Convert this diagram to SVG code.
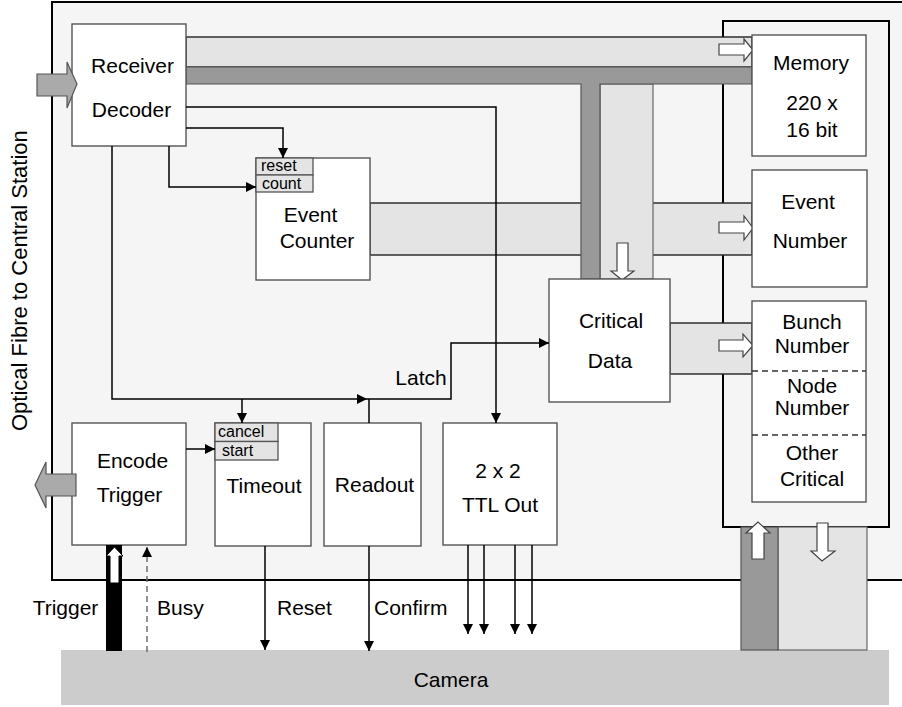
<svg xmlns="http://www.w3.org/2000/svg" width="902" height="707" viewBox="0 0 902 707">
<style>
text{font-family:"Liberation Sans",Arial,sans-serif;font-size:21px;fill:#000}
.sm{font-size:16px}
.mid{text-anchor:middle}
.box{fill:#fff;stroke:#555;stroke-width:1.4}
.tab{fill:#e4e4e4;stroke:#555;stroke-width:1.3}
.lbus{fill:#e4e4e4;stroke:#222;stroke-width:1.4}
.dbus{fill:#999;stroke:#555;stroke-width:1.2}
.warr{fill:#fff;stroke:#444;stroke-width:1.2}
.garr{fill:#aaa;stroke:#555;stroke-width:1.2}
.wire{fill:none;stroke:#000;stroke-width:1.5}
</style>
<defs>
<marker id="ah" viewBox="0 0 10 10" refX="10" refY="5" markerWidth="10" markerHeight="10" markerUnits="userSpaceOnUse" orient="auto">
<path d="M0,0 L10,5 L0,10 z" fill="#000"/>
</marker>
</defs>

<!-- board -->
<rect id="board" x="52" y="2" width="880" height="578" fill="#f5f5f5" stroke="#000" stroke-width="2"/>
<text transform="translate(27,431) rotate(-90)" style="font-size:22px">Optical Fibre to Central Station</text>

<!-- memory module panel -->
<rect id="panel" x="723" y="21" width="166" height="506" fill="#f5f5f5" stroke="#000" stroke-width="2"/>

<!-- camera -->
<g id="camera">
<rect x="61" y="650" width="828" height="55" fill="#ccc"/>
<text x="451" y="687" class="mid">Camera</text>
</g>

<!-- buses -->
<g id="buses">
<rect class="lbus" x="370" y="203" width="382" height="52"/>
<rect class="lbus" x="670" y="323" width="82" height="51"/>
<rect class="lbus" x="186" y="37" width="566" height="30"/>
<rect x="600" y="84" width="53" height="195" fill="#e4e4e4" stroke="#666" stroke-width="1.2"/>
<path class="dbus" d="M186,67 H752 V84 H600 V279 H581 V84 H186 Z"/>
<rect x="778" y="527" width="89" height="123" fill="#e4e4e4" stroke="#666" stroke-width="1.2"/>
<rect class="dbus" x="741" y="527" width="37" height="123"/>
<polygon class="warr" points="719,44 744,44 744,39 753,50 744,61 744,55 719,55"/>
<polygon class="warr" points="719,222 744,222 744,216 753,228 744,240 744,233 719,233"/>
<polygon class="warr" points="719,340 743,340 743,334 753,345.5 743,357 743,351 719,351"/>
<polygon class="warr" points="617,243 628,243 628,271 634,271 622,280 611,271 617,271"/>
<polygon class="warr" points="752,559 764,559 764,533 770,533 758,522 746,533 752,533"/>
<polygon class="warr" points="817,523 828,523 828,551 835,551 822,561 811,551 817,551"/>
</g>

<!-- nodes -->
<g id="receiver-decoder">
<rect class="box" x="72" y="24" width="114" height="122"/>
<text x="132.5" y="73" class="mid">Receiver</text>
<text x="131.5" y="117" class="mid">Decoder</text>
</g>
<polygon class="garr" points="37,74 67,74 67,62 77,84 67,108 67,96 37,96"/>

<g id="event-counter">
<rect class="box" x="256" y="158" width="114" height="122"/>
<rect class="tab" x="256" y="158" width="57" height="17"/>
<rect class="tab" x="256" y="175" width="57" height="17"/>
<text x="261" y="171" class="sm">reset</text>
<text x="262" y="189" class="sm">count</text>
<text x="310.5" y="222" class="mid">Event</text>
<text x="317" y="248" class="mid">Counter</text>
</g>

<g id="memory">
<rect class="box" x="752" y="35" width="114" height="121"/>
<text x="811" y="70" class="mid">Memory</text>
<text x="812" y="110" class="mid">220 x</text>
<text x="812" y="137" class="mid">16 bit</text>
</g>

<g id="event-number">
<rect class="box" x="752" y="170" width="115" height="117"/>
<text x="808" y="209" class="mid">Event</text>
<text x="810" y="248" class="mid">Number</text>
</g>

<g id="critical-data">
<rect class="box" x="549" y="279" width="121" height="123"/>
<text x="611" y="328" class="mid">Critical</text>
<text x="610" y="368" class="mid">Data</text>
</g>

<g id="critical-fields">
<rect class="box" x="752" y="301" width="114" height="201"/>
<path d="M752,371 H866 M752,435 H866" fill="none" stroke="#333" stroke-width="1.3" stroke-dasharray="6,4"/>
<text x="812" y="329" class="mid">Bunch</text>
<text x="812" y="353" class="mid">Number</text>
<text x="812" y="393" class="mid">Node</text>
<text x="812" y="415" class="mid">Number</text>
<text x="812" y="460" class="mid">Other</text>
<text x="812" y="486" class="mid">Critical</text>
</g>

<g id="encode-trigger">
<rect class="box" x="72" y="423" width="114" height="122"/>
<text x="132.5" y="468" class="mid">Encode</text>
<text x="129.5" y="502" class="mid">Trigger</text>
</g>
<polygon class="garr" points="76,474 46,474 46,462 35,485 46,508 46,496 76,496"/>

<g id="timeout">
<rect class="box" x="215" y="423" width="96" height="123"/>
<rect class="tab" x="215" y="423" width="63" height="18.5"/>
<rect class="tab" x="215" y="441.5" width="63" height="18.5"/>
<text x="218" y="437" class="sm">cancel</text>
<text x="222" y="455.5" class="sm">start</text>
<text x="264" y="493" class="mid">Timeout</text>
</g>

<g id="readout">
<rect class="box" x="324" y="423" width="97" height="123"/>
<text x="374.5" y="492" class="mid">Readout</text>
</g>

<g id="ttl-out">
<rect class="box" x="443" y="423" width="114" height="122"/>
<text x="498" y="478" class="mid">2 x 2</text>
<text x="500" y="512" class="mid">TTL Out</text>
</g>

<!-- connectors -->
<g id="connectors">
<path class="wire" d="M186,107 H496 V423" marker-end="url(#ah)"/>
<path class="wire" d="M186,128 H283 V158" marker-end="url(#ah)"/>
<path class="wire" d="M169,146 V187 H256" marker-end="url(#ah)"/>
<path class="wire" d="M112,146 V399 H367" marker-end="url(#ah)"/>
<path class="wire" d="M367,399 H451 V343 H549" marker-end="url(#ah)"/>
<path class="wire" d="M242,399 V423" marker-end="url(#ah)"/>
<path class="wire" d="M369,423 V399"/>
<path class="wire" d="M186,449 H215" marker-end="url(#ah)"/>
<path class="wire" d="M265,546 V650" marker-end="url(#ah)"/>
<path class="wire" d="M369,546 V651" marker-end="url(#ah)"/>
<path class="wire" d="M468,545 V634" marker-end="url(#ah)"/>
<path class="wire" d="M484,545 V634" marker-end="url(#ah)"/>
<path class="wire" d="M515,545 V634" marker-end="url(#ah)"/>
<path class="wire" d="M532,545 V634" marker-end="url(#ah)"/>
<path d="M147,652 V547" fill="none" stroke="#666" stroke-width="1.4" stroke-dasharray="6,4" marker-end="url(#ah)"/>
<rect x="106" y="545" width="16" height="106" fill="#000"/>
<polygon points="110,583 119,583 119,556 123,556 114.5,547 106,556 110,556" fill="#fff" stroke="#000" stroke-width="1"/>
<text x="421" y="385" class="mid">Latch</text>
<text x="65.5" y="615" class="mid">Trigger</text>
<text x="157" y="615">Busy</text>
<text x="277" y="615">Reset</text>
<text x="374" y="615">Confirm</text>
</g>
</svg>
